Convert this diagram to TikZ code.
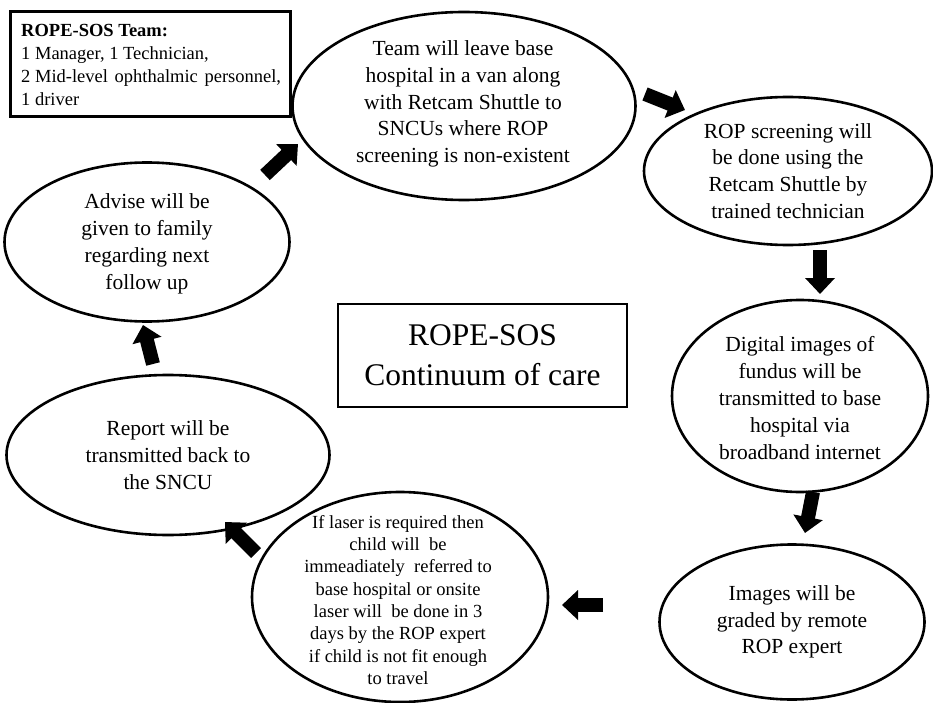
\documentclass[tikz,border=0pt]{standalone}
\usepackage{fontspec}
\setmainfont{Liberation Serif}
\usetikzlibrary{shapes.geometric,arrows.meta}
\begin{document}
\begin{tikzpicture}[x=1pt,y=-1pt,
  oval/.style={draw,line width=2.6pt,ellipse,inner sep=0pt},
  otext/.style={align=center,inner sep=0pt,font=\fontsize{21.5}{26.8}\selectfont},
  blockarrow/.style={line width=14pt,-{Triangle[length=16pt,width=29pt]}},
]
\useasboundingbox (0,0) rectangle (933,703);
% team box
\node[draw,line width=3pt,minimum width=280pt,minimum height=105pt,inner sep=0pt] (team) at (150,64) {};
\node[anchor=base west,align=left,inner sep=0pt,font=\fontsize{18.5}{23}\selectfont] (teamtext) at (21,106)
  {\textbf{ROPE-SOS Team:}\\1 Manager, 1 Technician,\\2 Mid-level\hspace{2pt} ophthalmic\hspace{2pt} personnel,\\1 driver};
% center box
\node[draw,line width=2.2pt,minimum width=289pt,minimum height=103pt,inner sep=0pt] (title) at (482.5,355.5) {};
\node[anchor=base,align=center,inner sep=0pt,font=\fontsize{31.5}{40}\selectfont] (titletext) at (482.5,385) {ROPE-SOS\\Continuum of care};
% ellipses
\node[oval,minimum width=343pt,minimum height=188pt] (e1) at (464,106) {};
\node[otext] (t1) at (463,104) {Team will leave base\\hospital in a van along\\with Retcam Shuttle to\\SNCUs where ROP\\screening is non-existent};
\node[oval,minimum width=288pt,minimum height=148pt] (e2) at (788,171) {};
\node[otext] (t2) at (e2) {ROP screening will\\be done using the\\Retcam Shuttle by\\trained technician};
\node[oval,minimum width=256pt,minimum height=192pt] (e3) at (800,396) {};
\node[otext] (t3) at (800,398) {Digital images of\\fundus will be\\transmitted to base\\hospital via\\broadband internet};
\node[oval,minimum width=265pt,minimum height=155pt] (e4) at (792,622) {};
\node[otext] (t4) at (e4) {Images will be\\graded by remote\\ROP expert};
\node[oval,minimum width=296pt,minimum height=210pt] (e5) at (400,597) {};
\node[align=center,inner sep=0pt,font=\fontsize{18.5}{22.3}\selectfont] (t5) at (398,600)
  {If laser is required then\\child will\ \ be\\immeadiately\ \ referred to\\base hospital or onsite\\laser will\ \ be done in 3\\days by the ROP expert\\if child is not fit enough\\to travel};
\node[oval,minimum width=323pt,minimum height=160pt] (e6) at (168,455) {};
\node[otext] (t6) at (e6) {Report will be\\transmitted back to\\the SNCU};
\node[oval,minimum width=285pt,minimum height=159pt] (e7) at (147,242) {};
\node[otext] (t7) at (147,244) {Advise will be\\given to family\\regarding next\\follow up};
% arrows
\coordinate (a1s) at (265,175); \coordinate (a1e) at (298,144);
\coordinate (a2s) at (645,94);  \coordinate (a2e) at (685,110);
\coordinate (a3s) at (820,250); \coordinate (a3e) at (820,294);
\coordinate (a4s) at (813,492); \coordinate (a4e) at (805,533);
\coordinate (a5s) at (603,605); \coordinate (a5e) at (562,605);
\coordinate (a6s) at (256,553); \coordinate (a6e) at (225,522);
\coordinate (a7s) at (153,364); \coordinate (a7e) at (143,325);
\draw[blockarrow] (a1s) -- (a1e);
\draw[blockarrow] (a2s) -- (a2e);
\draw[blockarrow] (a3s) -- (a3e);
\draw[blockarrow] (a4s) -- (a4e);
\draw[blockarrow] (a5s) -- (a5e);
\draw[blockarrow] (a6s) -- (a6e);
\draw[blockarrow] (a7s) -- (a7e);
\end{tikzpicture}
\end{document}
